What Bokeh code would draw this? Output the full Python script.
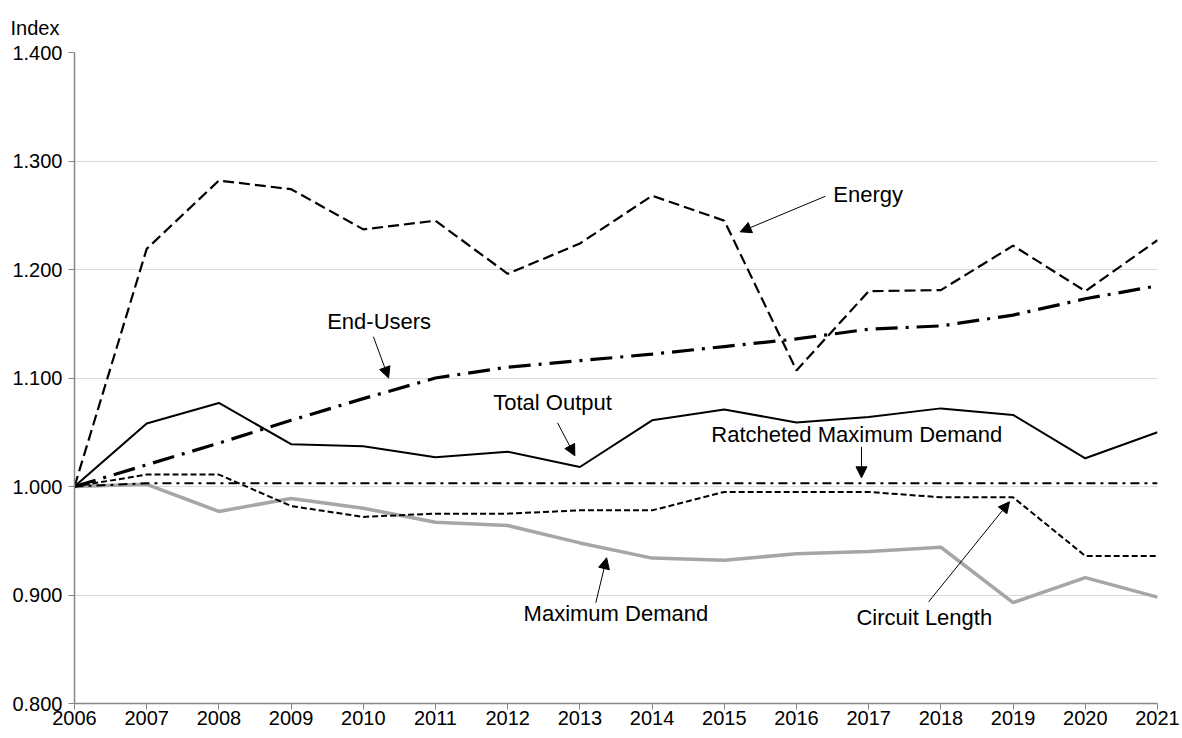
from bokeh.plotting import figure
from bokeh.models import Label, Arrow, NormalHead, FixedTicker, NumeralTickFormatter, Range1d
from bokeh.embed import file_html
from bokeh.resources import INLINE

years = list(range(2006, 2022))

energy = [1.000, 1.219, 1.282, 1.274, 1.237, 1.245, 1.196, 1.224, 1.268, 1.245,
          1.107, 1.180, 1.181, 1.222, 1.180, 1.227]
end_users = [1.000, 1.020, 1.040, 1.061, 1.081, 1.100, 1.110, 1.116, 1.122, 1.129,
             1.136, 1.145, 1.148, 1.158, 1.173, 1.185]
total_output = [1.000, 1.058, 1.077, 1.039, 1.037, 1.027, 1.032, 1.018, 1.061, 1.071,
                1.059, 1.064, 1.072, 1.066, 1.026, 1.050]
ratcheted_md = [1.000, 1.003, 1.003, 1.003, 1.003, 1.003, 1.003, 1.003, 1.003, 1.003,
                1.003, 1.003, 1.003, 1.003, 1.003, 1.003]
circuit_length = [1.000, 1.011, 1.011, 0.982, 0.972, 0.975, 0.975, 0.978, 0.978, 0.995,
                  0.995, 0.995, 0.990, 0.990, 0.936, 0.936]
maximum_demand = [1.000, 1.002, 0.977, 0.989, 0.980, 0.967, 0.964, 0.948, 0.934, 0.932,
                  0.938, 0.940, 0.944, 0.893, 0.916, 0.898]

y_ticks = [0.8, 0.9, 1.0, 1.1, 1.2, 1.3, 1.4]

# annotation texts: (text, label x, label y, arrow start x, y, arrow end x, y)
notes = [
    ("Energy", 2016.51, 1.269, 2016.40, 1.2675, 2015.22, 1.2347),
    ("End-Users", 2009.50, 1.152, 2010.14, 1.138, 2010.35, 1.100),
    ("Total Output", 2011.80, 1.077, 2012.69, 1.0587, 2012.93, 1.0283),
    ("Ratcheted Maximum Demand", 2014.82, 1.0477, 2016.90, 1.0366, 2016.90, 1.008),
    ("Maximum Demand", 2012.22, 0.8827, 2013.22, 0.8928, 2013.37, 0.9343),
    ("Circuit Length", 2016.83, 0.879, 2017.83, 0.8937, 2018.95, 0.9859),
]

FONT = "Liberation Sans"

p = figure(width=1180, height=736, output_backend="svg", toolbar_location=None,
           x_range=Range1d(2006, 2021), y_range=Range1d(0.8, 1.4))
p.min_border_left = 74
p.min_border_right = 23
p.min_border_top = 52
p.min_border_bottom = 33
p.outline_line_color = None
p.background_fill_color = "white"

p.title.text = "Index"
p.title.align = "left"
p.title.offset = -64
p.title.standoff = 27
p.title.text_font = FONT
p.title.text_font_size = "20px"
p.title.text_font_style = "normal"
p.title.text_color = "black"

p.xgrid.visible = False
p.ygrid.grid_line_color = "#d9d9d9"
p.ygrid.grid_line_width = 1

p.xaxis.ticker = FixedTicker(ticks=years)
p.yaxis.ticker = FixedTicker(ticks=y_ticks)
p.yaxis.formatter = NumeralTickFormatter(format="0.000")
for ax in (p.xaxis, p.yaxis):
    ax.axis_line_color = "#868686"
    ax.axis_line_width = 1.5
    ax.major_tick_line_color = "#868686"
    ax.major_tick_line_width = 1
    ax.major_tick_out = 6
    ax.major_tick_in = 0
    ax.minor_tick_line_color = None
    ax.major_label_text_font = FONT
    ax.major_label_text_font_size = "20px"
    ax.major_label_text_color = "black"
p.xaxis.major_label_standoff = 1
p.yaxis.major_label_standoff = 6

p.line(years, maximum_demand, line_color="#a6a6a6", line_width=3.5)
p.line(years, circuit_length, line_color="black", line_width=2, line_dash="6 3")
p.line(years, ratcheted_md, line_color="black", line_width=2, line_dash="9 5 3 5")
p.line(years, total_output, line_color="black", line_width=2)
p.line(years, end_users, line_color="black", line_width=3.2, line_dash="22 8 3 8")
p.line(years, energy, line_color="black", line_width=2.2, line_dash="11 5")

for text, lx, ly, sx, sy, ex, ey in notes:
    p.add_layout(Label(x=lx, y=ly, text=text, text_font=FONT, text_font_size="22px",
                       text_baseline="middle", text_align="left", text_color="black"))
    p.add_layout(Arrow(x_start=sx, y_start=sy, x_end=ex, y_end=ey, line_width=1,
                       line_color="black",
                       end=NormalHead(size=11, fill_color="black", line_color="black")))

open("out.html", "w").write(file_html(p, INLINE))
